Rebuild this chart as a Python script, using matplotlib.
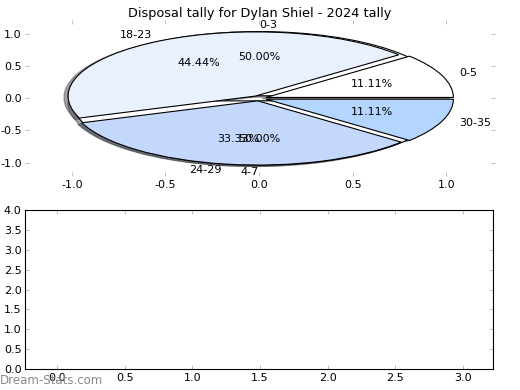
import matplotlib
matplotlib.use("Agg")
import matplotlib.pyplot as plt

# ---- data ----
title = "Disposal tally for Dylan Shiel - 2024 tally"
pie_a_labels = ["0-3", "4-7"]
pie_a_values = [1, 1]
pie_b_labels = ["0-5", "18-23", "24-29", "30-35"]
pie_b_values = [1, 4, 3, 1]
pie_b_colors = ["#ffffff", "#e9f0fe", "#c4d8fe", "#b4d5ff"]
pie_ticks = [-1.0, -0.5, 0.0, 0.5, 1.0]
bottom_xticks = [0.0, 0.5, 1.0, 1.5, 2.0, 2.5, 3.0]
bottom_yticks = [0.0, 0.5, 1.0, 1.5, 2.0, 2.5, 3.0, 3.5, 4.0]

plt.rcParams["font.family"] = ["DejaVu Sans"]
plt.rcParams["font.size"] = 10
plt.rcParams["axes.unicode_minus"] = False

fig = plt.figure(figsize=(6.5, 4.875), dpi=80)
W, H = 520.0, 390.0

def box(l, t, r, b):
    return [l / W, 1 - b / H, (r - l) / W, (b - t) / H]

tick_col = "#bbbbbb"

# ---- top: pie ----
ax1 = fig.add_axes(box(25, 20, 495, 176))
_, a_texts, _ = ax1.pie(pie_a_values, labels=pie_a_labels, autopct="%.2f%%",
                        colors=["#ffffff", "#ffffff"],
                        explode=[0.04] * len(pie_a_values), shadow=True, frame=True,
                        wedgeprops=dict(edgecolor="black", linewidth=1))
a_texts[0].set_ha("left")
a_texts[1].set_ha("right")
ax1.pie(pie_b_values, labels=pie_b_labels, autopct="%.2f%%", colors=pie_b_colors,
        explode=[0.04] * len(pie_b_values), shadow=True, frame=True,
        wedgeprops=dict(edgecolor="black", linewidth=1))
ax1.set_aspect("auto")
ax1.set_xlim(-1.25, 1.26)
ax1.set_ylim(-1.21, 1.22)
ax1.set_xticks(pie_ticks)
ax1.set_yticks(pie_ticks)
for s in ax1.spines.values():
    s.set_visible(False)
ax1.tick_params(direction="in", length=4, color=tick_col, top=True, right=True,
                labelsize=10, pad=4)
ax1.tick_params(axis="y", pad=3)
ax1.set_title(title, fontsize=11.6, pad=3)

# ---- bottom: empty axes ----
ax2 = fig.add_axes(box(25, 210, 493, 369))
ax2.set_xlim(-0.236, 3.222)
ax2.set_ylim(0, 4.0)
ax2.set_xticks(bottom_xticks)
ax2.set_yticks(bottom_yticks)
for s in ax2.spines.values():
    s.set_color("black")
    s.set_linewidth(1)
ax2.tick_params(direction="in", length=4, color=tick_col, top=True, right=True,
                labelsize=10, pad=4)
ax2.tick_params(axis="y", pad=3)

fig.text(0.0, 1 - 381 / H, "Dream-Stats.com", color="#8a8a8a", fontsize=10.6,
         ha="left", va="center")

fig.savefig("out.png", dpi=80)
